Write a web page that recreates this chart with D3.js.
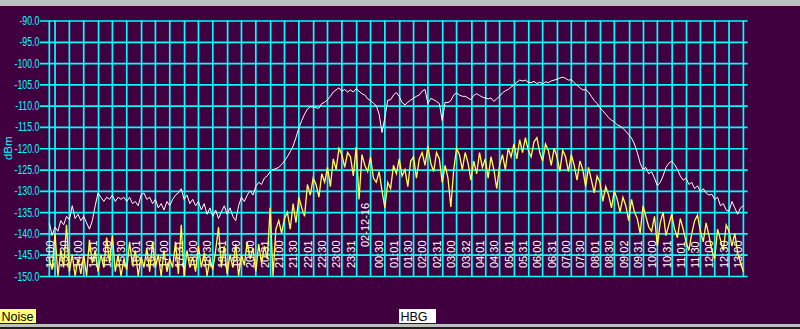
<!DOCTYPE html>
<html>
<head>
<meta charset="utf-8">
<script src="https://cdn.jsdelivr.net/npm/d3@7"></script>
<style>
  body { margin: 0; background: #400040; }
  svg { display: block; }
</style>
</head>
<body>
<svg width="800" height="329"></svg>
<script>
// samples every 6 minutes, starting 2002-12-15 12:48
const startTime = new Date(2002, 11, 15, 12, 48);
const stepMinutes = 6;

// HBG level, dBm
const hbg = [
  -137.5, -140.5, -138.5, -139.5, -137, -138, -136, -136.8, -133.5, -136.5,
  -135.5, -137, -136, -137.5, -139, -137, -133.5, -130.5, -131.5, -132.5,
  -131.5, -132, -131, -132.5, -131.5, -132, -131.5, -132.5, -131.5, -133,
  -132.5, -133.5, -131, -130.5, -132, -131.5, -133, -132, -134, -133,
  -134.5, -132.5, -133.5, -132, -131, -130.5, -129.5, -132, -131, -133,
  -132, -133.5, -132.5, -134.5, -133, -135.5, -134, -136, -134.5, -136.5,
  -135, -133.5, -135.5, -134, -136, -137, -133.5, -131.5, -132.5, -131,
  -130, -131, -129, -128, -128.5, -127, -126.5, -125.5, -125, -124.8,
  -124.5, -123.8, -123, -122, -120.8, -119.5, -117.5, -115.3, -113.5, -112,
  -110.8, -110.3, -110.3, -110.5, -110.6, -109.5, -109.2, -108.6, -107.8, -106.8,
  -106.3, -105.8, -106.6, -106.2, -106.8, -106.3, -106.8, -106.0, -106.6, -107.2,
  -107.5, -108.4, -108.8, -109.4, -110, -112, -116.3, -112.8, -108.7, -108.6,
  -107.5, -106.9, -107.8, -109.3, -109.8, -109.2, -108.7, -108.2, -107.8, -107.5,
  -106.6, -106.2, -109.5, -108.3, -108.6, -109, -109.5, -113.5, -109.2, -109.3,
  -108.8, -107.5, -107.0, -107.5, -107.8, -107.8, -108.2, -108.6, -107.6, -107.2,
  -107.6, -108, -108.2, -108.4, -108.2, -109, -108.4, -107.8, -107.0, -106.5,
  -106.2, -105.6, -105.2, -104.5, -104.0, -104.2, -104.0, -104.5, -104.6, -104.3,
  -104.8, -104.5, -104.9, -104.4, -104.6, -104.2, -104.0, -103.8, -103.5, -103.3,
  -103.6, -104.0, -103.9, -104.6, -105.2, -105.8, -106.3, -106.2, -106.8, -107.8,
  -108.8, -109.5, -110.5, -111.2, -112, -112.8, -113.4, -113.8, -114.5, -114.8,
  -115.3, -116, -116.8, -117.6, -119, -121, -123.5, -125, -124.5, -126,
  -125.5, -127, -128.8, -128, -126.5, -124.5, -123.5, -123, -123.8, -125,
  -126.5, -127.5, -127, -128.5, -128, -129.5, -128.8, -130.2, -129.5, -130.5,
  -131, -130.8, -132, -131.5, -133.5, -133, -134.5, -134.8, -132.5, -134,
  -135.5, -134, -133.5
];

// Noise level, dBm
const noise = [
  -146, -148.5, -140, -150, -144, -148, -138, -149, -145, -150,
  -146, -149.5, -145, -150, -141.5, -147, -144, -149, -145, -148,
  -141, -147, -140.5, -149, -145, -150, -146, -148.5, -142, -147.5,
  -144, -150, -145.5, -148, -143.5, -149, -142, -148, -145, -150,
  -144, -149, -146, -148, -142, -149.5, -138, -150, -144, -148,
  -145.5, -149, -143, -148, -144.5, -150, -146, -148.5, -144, -138.5,
  -148, -143, -149.5, -145, -148, -142.5, -150, -145, -147.5, -142,
  -146, -143.5, -149, -142.5, -147, -143, -146, -134, -150, -139,
  -137, -140, -136.5, -135, -139, -133, -137.5, -131.5, -134, -136,
  -128.5, -131, -127, -128.5, -131.5, -126, -128, -124.5, -129, -122.5,
  -125, -120, -121.5, -124.5, -121, -122, -126.5, -119.7, -132, -121.5,
  -124, -125.5, -122, -127, -128, -125.5, -130, -134, -128, -129.5,
  -124, -126, -122.5, -126.5, -125, -129, -123, -122, -127, -122.5,
  -121, -124, -119.5, -123.5, -125.5, -121, -122.5, -128, -124, -127,
  -133.8, -125, -120, -121.5, -125, -121, -123.5, -127.5, -123, -126,
  -121, -124.5, -122.5, -127, -122, -125, -129.5, -124, -121.5, -125,
  -120, -122, -119, -122.5, -118, -121, -117.5, -120.5, -122, -118.5,
  -117.5, -121, -123, -119, -120.5, -124, -120, -122, -125.5, -120.5,
  -122, -125.5, -121.5, -124, -127.5, -123, -125, -129, -124.5, -127.5,
  -130.5, -126.5, -128, -132.5, -129, -131, -134, -130, -132, -135,
  -131.5, -133.5, -137, -132, -135, -136.5, -140, -133.5, -136, -138.5,
  -139.5, -136, -143, -137.5, -135, -140.5, -138, -135.5, -139, -141,
  -136.5, -139, -142, -144, -140, -137, -135.7, -139.5, -142, -137.5,
  -140.5, -144, -146, -139, -141.5, -144, -138, -139.5, -143, -140,
  -144.5, -147, -149
];

const yTicks = [-90, -95, -100, -105, -110, -115, -120, -125, -130, -135, -140, -145, -150];

const tickTimes = [
  "2002-12-15 13:00", "2002-12-15 13:30", "2002-12-15 14:00", "2002-12-15 14:31",
  "2002-12-15 15:00", "2002-12-15 15:30", "2002-12-15 16:01", "2002-12-15 16:30",
  "2002-12-15 17:00", "2002-12-15 17:31", "2002-12-15 18:00", "2002-12-15 18:30",
  "2002-12-15 19:01", "2002-12-15 19:30", "2002-12-15 20:00", "2002-12-15 20:31",
  "2002-12-15 21:00", "2002-12-15 21:30", "2002-12-15 22:01", "2002-12-15 22:30",
  "2002-12-15 23:00", "2002-12-15 23:31", "2002-12-16 00:00", "2002-12-16 00:30",
  "2002-12-16 01:01", "2002-12-16 01:30", "2002-12-16 02:00", "2002-12-16 02:31",
  "2002-12-16 03:00", "2002-12-16 03:32", "2002-12-16 04:01", "2002-12-16 04:30",
  "2002-12-16 05:01", "2002-12-16 05:31", "2002-12-16 06:00", "2002-12-16 06:31",
  "2002-12-16 07:00", "2002-12-16 07:30", "2002-12-16 08:01", "2002-12-16 08:30",
  "2002-12-16 09:02", "2002-12-16 09:31", "2002-12-16 10:00", "2002-12-16 10:31",
  "2002-12-16 11:01", "2002-12-16 11:30", "2002-12-16 12:00", "2002-12-16 12:30",
  "2002-12-16 13:00"
];

const svg = d3.select("svg");
const width = +svg.attr("width");

const parse = d3.timeParse("%Y-%m-%d %H:%M");
const ticks = tickTimes.map(parse);

const plotLeft = 49.3, plotRight = 747.7, plotTop = 20.5, plotBottom = 276;

const x = d3.scaleTime()
  .domain([parse("2002-12-15 12:48"), parse("2002-12-16 13:09")])
  .range([plotLeft, plotRight]);
const y = d3.scaleLinear()
  .domain([-150, -90])
  .range([plotBottom, plotTop]);

const timeOf = i => d3.timeMinute.offset(startTime, i * stepMinutes);
const isMidnight = d => d.getHours() === 0 && d.getMinutes() === 0;

// window chrome
svg.append("rect").attr("x", 0).attr("y", 0).attr("width", width).attr("height", 6).attr("fill", "#c0c0c0");
svg.append("rect").attr("x", 0).attr("y", 324).attr("width", width).attr("height", 3).attr("fill", "#c0c0c0");
svg.append("rect").attr("x", 0).attr("y", 327).attr("width", width).attr("height", 2).attr("fill", "#202020");

const grid = "#00ffff";

// horizontal grid with y labels
const yAxis = svg.append("g")
  .attr("transform", "translate(40,0)")
  .call(d3.axisLeft(y).tickValues(yTicks).tickSize(-(plotRight - 40)).tickPadding(1));
yAxis.select(".domain").remove();
yAxis.selectAll(".tick line").attr("stroke", grid).attr("stroke-width", 1.7);
yAxis.selectAll(".tick text")
  .attr("fill", grid)
  .attr("font-family", "Liberation Sans, Arial, sans-serif")
  .attr("font-size", 12.5)
  .attr("transform", "scale(0.7,1)")
  .text(d => d3.format(".1f")(d).replace("\u2212", "-"));

// vertical grid
svg.append("line")
  .attr("x1", plotLeft).attr("x2", plotLeft).attr("y1", plotTop).attr("y2", plotBottom)
  .attr("stroke", grid).attr("stroke-width", 1.7);
svg.append("g").selectAll("line")
  .data(ticks)
  .join("line")
  .attr("x1", d => x(d)).attr("x2", d => x(d))
  .attr("y1", plotTop).attr("y2", plotBottom)
  .attr("stroke", grid).attr("stroke-width", 1.7);

// time labels
const fmt = d3.timeFormat("%H:%M");
svg.append("g").selectAll("text")
  .data(ticks)
  .join("text")
  .attr("transform", d => `translate(${x(d) - 1.5},${isMidnight(d) ? 247 : 268}) rotate(-90)`)
  .attr("fill", "#ffffff")
  .attr("font-family", "Liberation Sans, Arial, sans-serif")
  .attr("font-size", 11)
  .text(d => isMidnight(d) ? d3.timeFormat("%y-%m-%d")(d) : fmt(d));

// y title
svg.append("text")
  .attr("transform", `translate(12,${(plotTop + plotBottom) / 2}) rotate(-90)`)
  .attr("text-anchor", "middle")
  .attr("fill", grid)
  .attr("font-family", "Liberation Sans, Arial, sans-serif")
  .attr("font-size", 11.5)
  .text("dBm");

const line = d3.line()
  .x((d, i) => x(timeOf(i)))
  .y(d => y(d));

svg.append("path")
  .attr("d", line(noise))
  .attr("fill", "none")
  .attr("stroke", "#ffff50")
  .attr("stroke-width", 1.3);

svg.append("path")
  .attr("d", line(hbg))
  .attr("fill", "none")
  .attr("stroke", "#ffffff")
  .attr("stroke-width", 1);

// legend
const legend = [
  {name: "Noise", x: 0, w: 36, fill: "#ffff80"},
  {name: "HBG", x: 399, w: 37, fill: "#ffffff"}
];
const lg = svg.append("g").selectAll("g")
  .data(legend)
  .join("g")
  .attr("transform", d => `translate(${d.x},309)`);
lg.append("rect").attr("width", d => d.w).attr("height", 14).attr("fill", d => d.fill);
lg.append("text")
  .attr("x", 1.5).attr("y", 12)
  .attr("fill", "#000")
  .attr("font-family", "Liberation Sans, Arial, sans-serif")
  .attr("font-size", 12.5)
  .text(d => d.name);
</script>
</body>
</html>
